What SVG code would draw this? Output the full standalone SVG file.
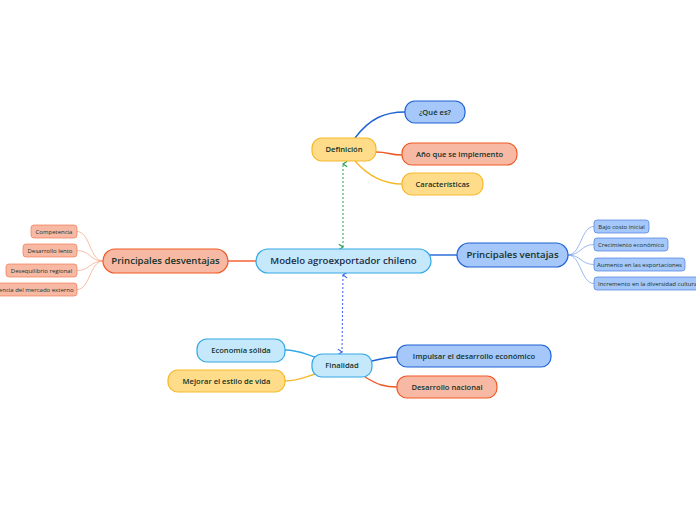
<svg xmlns="http://www.w3.org/2000/svg" width="696" height="520" viewBox="0 0 696 520">
<defs>
<style>
text{font-family:"Open Sans","Noto Sans","Liberation Sans",sans-serif;fill:#143329;text-anchor:middle}
.l1{font-size:9.6px;font-weight:600}
.l2{font-size:7.6px;font-weight:600}
.l3{font-size:6px}
.blue{fill:#a5c7fa;stroke:#1f63d4;stroke-width:1.2}
.sal{fill:#f8b9a4;stroke:#ef5a24;stroke-width:1.2}
.yel{fill:#fedc8a;stroke:#f6b92b;stroke-width:1.2}
.lb{fill:#c6e8fb;stroke:#32a8e6;stroke-width:1.2}
.sblue{fill:#a5c7fa;stroke:#4a80e0;stroke-width:0.7}
.ssal{fill:#f8b9a4;stroke:#f07a50;stroke-width:0.7}
.c{fill:none;stroke-width:1.4}
.cb{stroke:#1f63d4}.co{stroke:#ef5a24}.cy{stroke:#f6b92b}.cc{stroke:#32a8e6}
.thin{fill:none;stroke-width:0.7}
</style>
<marker id="ag" viewBox="0 0 10 10" refX="5" refY="2" markerWidth="7" markerHeight="7" orient="auto-start-reverse" markerUnits="userSpaceOnUse">
<path d="M1,8 L5,2 L9,8" fill="none" stroke="#22a050" stroke-width="1.6"/>
</marker>
<marker id="ab" viewBox="0 0 10 10" refX="5" refY="2" markerWidth="7" markerHeight="7" orient="auto-start-reverse" markerUnits="userSpaceOnUse">
<path d="M1,8 L5,2 L9,8" fill="none" stroke="#3a60e8" stroke-width="1.6"/>
</marker>
</defs>
<rect width="696" height="520" fill="#ffffff"/>
<g id="connectors">
<path class="c co" d="M228,261 L256,261"/>
<path class="c cb" d="M430,255 L457,255"/>
<path class="c cb" d="M355,138 C370,118 385,112 405,112"/>
<path class="c co" d="M376,152 C389,152 389,155 402,155"/>
<path class="c cy" d="M355,161 C370,178 385,184 402,184"/>
<path class="c cc" d="M285,350 C298,350 305,354 315,357"/>
<path class="c cy" d="M285,381 C298,381 305,377 315,374"/>
<path class="c cb" d="M372,361 C384,358 388,357 397,357"/>
<path class="c co" d="M365,377 C378,385 385,387 397,387"/>
<path class="thin" stroke="#f5a080" d="M103,261 C90,261 90,231.5 77,231.5"/>
<path class="thin" stroke="#f5a080" d="M103,261 C90,261 90,250.5 77,250.5"/>
<path class="thin" stroke="#f5a080" d="M103,261 C90,261 90,270.5 77,270.5"/>
<path class="thin" stroke="#f5a080" d="M103,261 C90,261 90,289.5 77,289.5"/>
<path class="thin" stroke="#6f9be8" d="M568,255 C581,255 581,226.5 594,226.5"/>
<path class="thin" stroke="#6f9be8" d="M568,255 C581,255 581,244.5 594,244.5"/>
<path class="thin" stroke="#6f9be8" d="M568,255 C581,255 581,264.5 594,264.5"/>
<path class="thin" stroke="#6f9be8" d="M568,255 C581,255 581,283.5 594,283.5"/>
<path d="M343,247 L343,164" fill="none" stroke="#22a050" stroke-width="1" stroke-dasharray="2,2" marker-start="url(#ag)" marker-end="url(#ag)"/>
<path d="M343,275 L342,352" fill="none" stroke="#3a60e8" stroke-width="1" stroke-dasharray="2,2" marker-start="url(#ab)" marker-end="url(#ab)"/>
</g>
<g id="center"><rect class="lb" x="256" y="249" width="175" height="24" rx="12" stroke="#3a96dc"/><text class="l1" x="343.5" y="264.4" style="fill:#1b2b45">Modelo agroexportador chileno</text></g>
<g id="desventajas"><rect class="sal" x="103" y="249" width="125" height="24" rx="12"/><text class="l1" x="165.5" y="264.4">Principales desventajas</text></g>
<g id="ventajas"><rect class="blue" x="457" y="243" width="111" height="24" rx="12"/><text class="l1" x="512.5" y="258.4">Principales ventajas</text></g>
<g id="definicion"><rect class="yel" x="312" y="138" width="64" height="23" rx="10"/><text class="l2" x="344" y="152.4">Definición</text></g>
<g id="quees"><rect class="blue" x="405" y="101" width="60" height="22" rx="10"/><text class="l2" x="435" y="114.7">¿Qué es?</text></g>
<g id="anio"><rect class="sal" x="402" y="143" width="115" height="22" rx="10"/><text class="l2" x="459.5" y="156.7">Año que se implemento</text></g>
<g id="caracteristicas"><rect class="yel" x="402" y="173" width="81" height="22" rx="10"/><text class="l2" x="442.5" y="186.7">Características</text></g>
<g id="finalidad"><rect class="lb" x="312" y="354" width="60" height="23" rx="10"/><text class="l2" x="342" y="368.4">Finalidad</text></g>
<g id="economia"><rect class="lb" x="197" y="339" width="88" height="23" rx="10"/><text class="l2" x="241" y="353.4">Economía sólida</text></g>
<g id="mejorar"><rect class="yel" x="168" y="370" width="117" height="22" rx="10"/><text class="l2" x="226.5" y="383.7">Mejorar el estilo de vida</text></g>
<g id="impulsar"><rect class="blue" x="397" y="345" width="154" height="22" rx="10"/><text class="l2" x="474" y="358.7">Impulsar el desarrollo económico</text></g>
<g id="desarrollo"><rect class="sal" x="397" y="376" width="100" height="22" rx="10"/><text class="l2" x="447" y="389.7">Desarrollo nacional</text></g>
<g id="competencia"><rect class="ssal" x="31" y="225" width="46" height="13" rx="3"/><text class="l3" x="54" y="233.6">Competencia</text></g>
<g id="lento"><rect class="ssal" x="23" y="244" width="54" height="13" rx="3"/><text class="l3" x="50" y="252.6">Desarrollo lento</text></g>
<g id="desequilibrio"><rect class="ssal" x="6" y="264" width="71" height="13" rx="3"/><text class="l3" x="41.5" y="272.6">Desequilibrio regional</text></g>
<g id="dependencia"><rect class="ssal" x="-45" y="283" width="122" height="13" rx="3"/><text class="l3" x="73.5" y="291.6" style="text-anchor:end">Dependencia del mercado externo</text></g>
<g id="bajo"><rect class="sblue" x="594" y="220" width="55" height="13" rx="3"/><text class="l3" x="621.5" y="228.6">Bajo costo inicial</text></g>
<g id="crecimiento"><rect class="sblue" x="594" y="238" width="74" height="13" rx="3"/><text class="l3" x="631" y="246.6">Crecimiento económico</text></g>
<g id="aumento"><rect class="sblue" x="594" y="258" width="91" height="13" rx="3"/><text class="l3" x="639.5" y="266.6">Aumento en las exportaciones</text></g>
<g id="incremento"><rect class="sblue" x="594" y="277" width="125" height="13" rx="3"/><text class="l3" x="598" y="285.6" style="text-anchor:start">Incremento en la diversidad cultural</text></g>
</svg>
